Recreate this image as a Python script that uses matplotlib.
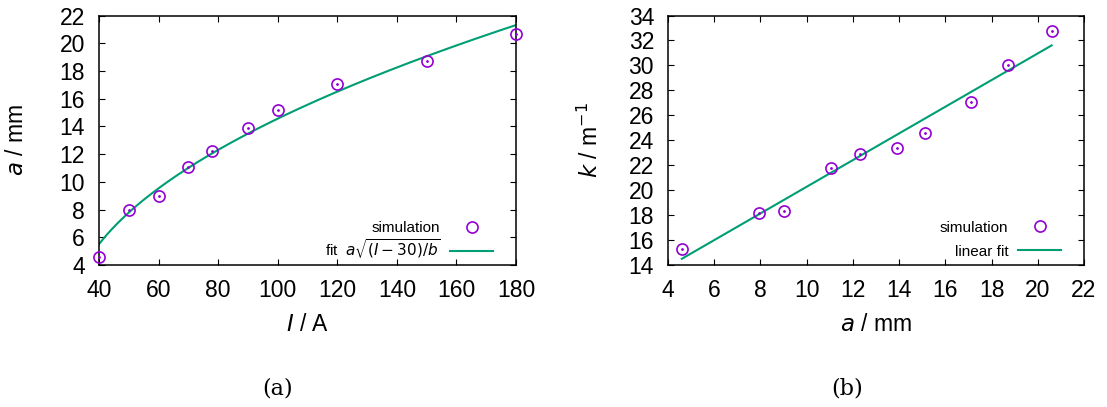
import numpy as np
import matplotlib
matplotlib.use("Agg")
import matplotlib.pyplot as plt

plt.rcParams['font.family'] = ['Liberation Sans', 'DejaVu Sans']
plt.rcParams['mathtext.fontset'] = 'dejavusans'

# panel (a): arc size vs current
current = [40, 50, 60, 70, 78, 90, 100, 120, 150, 180]
size_a = [4.6, 7.95, 9.0, 11.05, 12.25, 13.85, 15.15, 17.05, 18.7, 20.65]
fit_a, fit_b = 1.74, 1.0   # a*sqrt((I-30)/b)

# panel (b): curvature vs arc size
size_b = [4.6, 7.95, 9.0, 11.05, 12.3, 13.9, 15.1, 17.1, 18.7, 20.6]
curv = [15.3, 18.2, 18.3, 21.8, 22.9, 23.4, 24.55, 27.05, 30.05, 32.75]
lin_slope, lin_icpt = 1.069, 9.58

purple = '#9400D3'
green = '#009E73'

fig = plt.figure(figsize=(11.07, 4.07), dpi=100)
ax1 = fig.add_axes([0.0894, 0.3489, 0.3767, 0.613])
ax2 = fig.add_axes([0.6034, 0.3489, 0.3758, 0.613])

def sim_points(ax, x, y):
    ax.plot(x, y, 'o', ms=8, mfc='none', mec=purple, mew=1.2, label='simulation',
            clip_on=False, zorder=4)
    ax.plot(x, y, '.', ms=2, color=purple, clip_on=False, zorder=4)

def style(ax):
    ax.tick_params(direction='in', length=4, width=0.8, top=True, right=True,
                   labelsize=16.5)
    ax.tick_params(axis='x', pad=10)
    ax.tick_params(axis='y', pad=10)
    for s in ax.spines.values():
        s.set_linewidth(1.1)

def legend(ax, spacing, anchor_y):
    h, l = ax.get_legend_handles_labels()
    ax.legend([h[0], h[1]], [l[0], l[1]], loc='lower right', frameon=False,
              markerfirst=False, fontsize=11, handlelength=2.8, handletextpad=0.65,
              labelspacing=spacing, borderpad=0, borderaxespad=0,
              bbox_to_anchor=(0.945, anchor_y))

# (a)
sim_points(ax1, current, size_a)
Ifit = np.linspace(40, 180, 200)
ax1.plot(Ifit, fit_a * np.sqrt((Ifit - 30) / fit_b), color=green, lw=1.5,
         label=r'fit  $a\sqrt{(I-30)/b}$')
ax1.set_xlim(40, 180)
ax1.set_ylim(4, 22)
ax1.set_xticks(range(40, 181, 20))
ax1.set_yticks(range(4, 23, 2))
ax1.set_xlabel(r'$I$ / A', fontsize=16.5)
ax1.set_ylabel(r'$a$ / mm', fontsize=16.5)
ax1.xaxis.set_label_coords(0.5, -0.24)
ax1.yaxis.set_label_coords(-0.197, 0.5)
style(ax1)
legend(ax1, 0.15, 0.015)

# (b)
sim_points(ax2, size_b, curv)
afit = np.array([min(size_b), max(size_b)])
ax2.plot(afit, lin_slope * afit + lin_icpt, color=green, lw=1.5, label='linear fit')
ax2.set_xlim(4, 22)
ax2.set_ylim(14, 34)
ax2.set_xticks(range(4, 23, 2))
ax2.set_yticks(range(14, 35, 2))
ax2.set_xlabel(r'$a$ / mm', fontsize=16.5)
ax2.set_ylabel(r'$k$ / m$^{-1}$', fontsize=16.5)
ax2.xaxis.set_label_coords(0.5, -0.24)
ax2.yaxis.set_label_coords(-0.1875, 0.5)
style(ax2)
legend(ax2, 0.65, 0.025)

for ax in (ax1, ax2):
    ax.xaxis.label.set_va('center')
    ax.yaxis.label.set_va('center')

fig.text(278 / 1107, 1 - 388 / 407, '(a)', family='DejaVu Serif', fontsize=16,
         ha='center', va='center')
fig.text(847.5 / 1107, 1 - 388 / 407, '(b)', family='DejaVu Serif', fontsize=16,
         ha='center', va='center')

fig.savefig('out.png', dpi=100)
